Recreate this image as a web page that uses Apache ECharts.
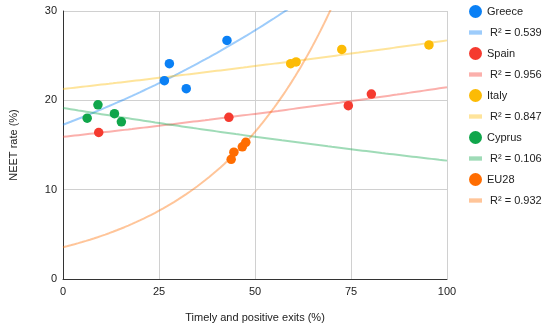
<!DOCTYPE html>
<html>
<head>
<meta charset="utf-8">
<script src="https://cdn.jsdelivr.net/npm/echarts@6/dist/echarts.min.js"></script>
<style>html,body{margin:0;padding:0;background:#fff}#c{width:550px;height:332px}</style>
</head>
<body>
<div id="c"></div>
<script>
// Data
const countries = ['Greece', 'Spain', 'Italy', 'Cyprus', 'EU28'];
const greece = [[26.4, 22.2], [27.7, 24.1], [32.1, 21.3], [42.7, 26.7]];
const spain  = [[9.3, 16.4], [43.2, 18.1], [74.3, 19.4], [80.3, 20.7]];
const italy  = [[59.3, 24.1], [60.7, 24.3], [72.6, 25.7], [95.3, 26.2]];
const cyprus = [[6.3, 18.0], [9.1, 19.5], [13.4, 18.5], [15.2, 17.6]];
const eu28   = [[43.8, 13.4], [44.5, 14.2], [46.7, 14.8], [47.6, 15.3]];
const r2Labels = ['R² = 0.539', 'R² = 0.956', 'R² = 0.847', 'R² = 0.106', 'R² = 0.932'];
const xTicks = [0, 25, 50, 75, 100];
const yTicks = [0, 10, 20, 30];

const colors = ['#0a80f5', '#f53a2f', '#fcbb05', '#10a64b', '#ff6d01'];
const seriesData = [greece, spain, italy, cyprus, eu28];

// Exponential trendline (least squares on ln y), derived from the scatter data
function expFit(pts) {
  const n = pts.length;
  let sx = 0, sy = 0;
  pts.forEach(p => { sx += p[0]; sy += Math.log(p[1]); });
  const mx = sx / n, my = sy / n;
  let sxy = 0, sxx = 0;
  pts.forEach(p => { sxy += (p[0] - mx) * (Math.log(p[1]) - my); sxx += (p[0] - mx) ** 2; });
  const b = sxy / sxx, a = Math.exp(my - b * mx);
  const out = [];
  for (let x = 0; x <= 100; x += 0.5) out.push([x, a * Math.exp(b * x)]);
  return out;
}

const series = [];
const legendData = [];
const font = 'Arial, "Liberation Sans", sans-serif';
countries.forEach((name, i) => {
  const trendName = ' ' + r2Labels[i];
  series.push({
    name: trendName, type: 'line', data: expFit(seriesData[i]),
    showSymbol: false, symbol: 'none', z: 1, silent: true,
    lineStyle: { color: colors[i], width: 2, opacity: 0.4 },
    itemStyle: { color: colors[i], opacity: 0.4 }
  });
  series.push({
    name: name, type: 'scatter', data: seriesData[i], symbolSize: 9.5, z: 3,
    itemStyle: { color: colors[i], opacity: 1 }
  });
  legendData.push({ name: name, icon: 'circle' });
  legendData.push({ name: trendName, icon: 'path://M0,0H12V4H0Z', itemStyle: { opacity: 0.4 } });
});

const chart = echarts.init(document.getElementById('c'), null, { renderer: 'canvas' });
chart.setOption({
  animation: false,
  textStyle: { fontFamily: font },
  grid: { left: 60, right: 103, top: 11, bottom: 53 },
  legend: {
    orient: 'vertical', left: 469, top: 5, padding: 0,
    itemWidth: 13, itemHeight: 13, itemGap: 9,
    symbolKeepAspect: true,
    data: legendData,
    textStyle: { fontSize: 11, color: '#222', fontFamily: font }
  },
  xAxis: {
    type: 'value', min: xTicks[0], max: xTicks[xTicks.length - 1], interval: 25,
    name: 'Timely and positive exits (%)', nameLocation: 'middle', nameGap: 33,
    nameTextStyle: { fontSize: 11, color: '#222', fontFamily: font },
    axisLine: { show: true, lineStyle: { color: '#333', width: 1 } },
    axisTick: { show: false },
    axisLabel: { fontSize: 11, color: '#222', margin: 7 },
    splitLine: { show: true, lineStyle: { color: '#d0d0d0', width: 1 } }
  },
  yAxis: {
    type: 'value', min: yTicks[0], max: yTicks[yTicks.length - 1], interval: 10,
    name: 'NEET rate (%)', nameLocation: 'middle', nameGap: 44, nameRotate: 90,
    nameTextStyle: { fontSize: 11, color: '#222', fontFamily: font },
    axisLine: { show: true, lineStyle: { color: '#333', width: 1 } },
    axisTick: { show: false },
    axisLabel: { fontSize: 11, color: '#222', margin: 6 },
    splitLine: { show: true, lineStyle: { color: '#d0d0d0', width: 1 } }
  },
  series: series
});
</script>
</body>
</html>
